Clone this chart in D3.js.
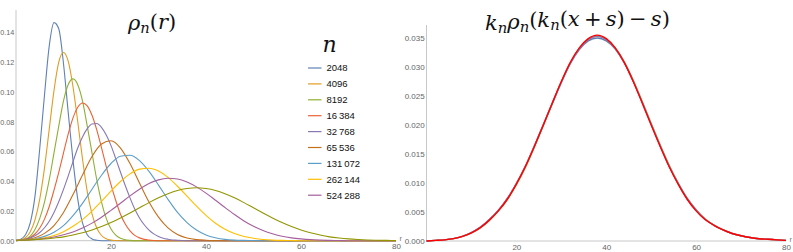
<!DOCTYPE html>
<html>
<head>
<meta charset="utf-8">
<script src="https://cdn.jsdelivr.net/npm/d3@7"></script>
<style>
  body { margin: 0; background: #fff; }
  svg { display: block; }
  .tick text { font-family: "Liberation Sans", Arial, sans-serif; font-size: 8px; fill: #666; }
  .axis path { stroke: #c8c8c8; }
  .legend-label { font-family: "Liberation Sans", Arial, sans-serif; font-size: 9.5px; fill: #111; }
  .axis-label { font-family: "Liberation Sans", Arial, sans-serif; font-size: 7.5px; fill: #777; }
</style>
</head>
<body>
<div id="chart"></div>
<script>
// series sizes (legend shows the first nine)
const sizes = ['2048', '4096', '8192', '16\u2009384', '32\u2009768', '65\u2009536', '131\u2009072', '262\u2009144', '524\u2009288', '1\u2009048\u2009576'];
const colors = ['#5E81B5', '#E19C24', '#8FB032', '#EB6235', '#8778B3', '#C56E1A', '#5D9EC7', '#FFBF00', '#A5609D', '#929600'];

// rho_n(r), sampled from r = 0 with the step in sampleStep
const sampleStep = [1, 1, 1, 1, 1, 2, 2, 2, 2, 2];
const rho2048 = [0, .001, .004, .012, .03, .062, .098, .131, .1466, .1425, .119, .086, .054, .028, .012, .004, .0012, .0003, 0];
const rho4096 = [0, .0005, .002, .006, .014, .028, .049, .075, .101, .120, .1265, .1205, .1035, .080, .055, .033, .018, .0085, .0035, .0013, .0004, .0001, 0];
const rho8192 = [0, .0003, .001, .003, .0075, .015, .026, .041, .059, .077, .094, .105, .1088, .1049, .094, .077, .059, .041, .026, .015, .0078, .0037, .0016, .0006, .0002, 0];
const rho16384 = [0, .0004, .001, .0022, .0045, .0085, .0145, .023, .034, .046, .059, .0718, .0826, .0897, .0926, .0907, .0843, .0745, .0625, .0498, .0377, .027, .0178, .0112, .0066, .0036, .0019, .0009, .0004, .0001, 0];
const rho32768 = [.0002, .0005, .001, .0019, .0033, .0055, .0087, .0131, .019, .0262, .0345, .0436, .0531, .0623, .0697, .0753, .0785, .0788, .0762, .071, .0639, .0552, .046, .0371, .0288, .0213, .0153, .0107, .0071, .0046, .0029, .0017, .001, .0005, .0003, .0001, 0];
const rho65536 = [.0002, .0007, .002, .0049, .0102, .019, .031, .0441, .0566, .065, .0672, .0623, .0519, .0388, .026, .0158, .0086, .0042, .0018, .0007, .0003, .0001, 0];
const rho131072 = [.0002, .0005, .0013, .0029, .0057, .0101, .0168, .0251, .0346, .044, .0519, .0568, .0574, .0538, .0466, .0374, .0278, .019, .0122, .0072, .0039, .002, .0009, .0004, .0002, .0001, 0];
const rho262144 = [.0002, .0005, .001, .0019, .0035, .006, .0097, .0142, .0199, .0265, .0334, .0398, .0449, .0481, .0487, .0468, .0426, .0366, .03, .0232, .017, .0117, .0077, .0048, .0028, .0016, .0008, .0004, .0002, .0001, 0];
const rho524288 = [.0002, .0004, .0008, .0015, .0025, .004, .0059, .0085, .0118, .0158, .0204, .0252, .0301, .0346, .0384, .0409, .042, .0415, .0395, .0362, .032, .0272, .0223, .0176, .0133, .0097, .0069, .0047, .003, .0019, .0012, .0007, .0004, .0002, .0001, 0];
const rho1048576 = [.0002, .0004, .0007, .0011, .0018, .0026, .0038, .0053, .0072, .0095, .0122, .0153, .0186, .0221, .0256, .0288, .0316, .0338, .0351, .0356, .0351, .0338, .0316, .0288, .0256, .0221, .0186, .0153, .0122, .0095, .0072, .0053, .0038, .0026, .0018, .0012, .0008, .0005, .0003, .0002, .0001];
const rhoSeries = [rho2048, rho4096, rho8192, rho16384, rho32768, rho65536, rho131072, rho262144, rho524288, rho1048576];

// rescaled curves k_n rho_n(k_n(x+s)-s), sampled every 2 from 0 to 80
const collapseColors = ['#5E81B5', '#E19C24', '#8778B3', '#FF0000'];
const collapseBlue = [0, .0001, .0002, .0004, .0008, .0014, .0024, .0037, .0053, .0073, .0099, .0129, .0164, .0201, .0238, .0274, .0306, .0330, .0345, .0350, .0345, .0331, .0307, .0276, .0240, .0202, .0165, .0130, .0100, .0074, .0054, .0038, .0027, .0019, .0013, .0009, .0006, .0004, .0003, .0002, .0001];
const collapseOrange = [0, .0001, .0002, .0004, .0008, .0014, .0023, .0036, .0052, .0072, .0097, .0127, .0162, .0199, .0237, .0274, .0307, .0332, .0348, .0353, .0348, .0333, .0309, .0277, .0240, .0202, .0165, .0130, .0099, .0073, .0053, .0038, .0027, .0019, .0013, .0009, .0006, .0004, .0003, .0002, .0001];
const collapsePurple = [0, .0001, .0002, .0004, .0008, .0015, .0024, .0037, .0053, .0074, .0099, .0129, .0163, .0200, .0237, .0273, .0306, .0331, .0347, .0353, .0347, .0332, .0308, .0276, .0239, .0201, .0164, .0129, .0099, .0073, .0053, .0037, .0027, .0019, .0013, .0009, .0006, .0004, .0003, .0002, .0001];
const collapseRed = [0, .0001, .0002, .0004, .0008, .0014, .0023, .0036, .0052, .0072, .0098, .0128, .0163, .0200, .0238, .0275, .0308, .0333, .0349, .0355, .0349, .0333, .0308, .0275, .0238, .0200, .0163, .0128, .0098, .0072, .0052, .0037, .0027, .0019, .0013, .0009, .0006, .0004, .0003, .0002, .0001];
const collapseSeries = [collapseBlue, collapseOrange, collapsePurple, collapseRed];

const xTicks = [20, 40, 60, 80];
const leftYTicks = [0, .02, .04, .06, .08, .10, .12, .14];
const rightYTicks = [0, .005, .01, .015, .02, .025, .03, .035];

const width = 793, height = 252;
const mathFont = "'DejaVu Serif', 'Liberation Serif', serif";

const svg = d3.select('#chart').append('svg')
    .attr('width', width)
    .attr('height', height);

// scales
const xLeft = d3.scaleLinear().domain([0, 80]).range([16, 396]);
const yLeft = d3.scaleLinear().domain([0, 0.14]).range([240.7, 32.45]);
const xRight = d3.scaleLinear().domain([0, 80]).range([426.5, 786]);
const yRight = d3.scaleLinear().domain([0, 0.035]).range([241, 38]);

function toPoints(values, step) {
    const pts = values.map((v, i) => [i * step, v]);
    if (pts[pts.length - 1][0] < 80) pts.push([80, 0]);
    return pts;
}

function drawAxes(x, y, yTicks, yFmt, top, labelSize, rShift) {
    svg.append('g')
        .attr('class', 'axis')
        .attr('transform', `translate(0,${y(0)})`)
        .call(d3.axisBottom(x).tickValues(xTicks).tickSize(0).tickPadding(3))
        .call(g => g.select('.domain').attr('d', `M${x(0)},0H${x(80)}`));
    svg.append('g')
        .attr('class', 'axis')
        .attr('transform', `translate(${x(0)},0)`)
        .call(d3.axisLeft(y).tickValues(yTicks).tickFormat(d3.format(yFmt)).tickSize(0).tickPadding(1.8))
        .call(g => g.select('.domain').attr('d', `M0,${top}V${y(0)}`))
        .call(g => g.selectAll('.tick text').style('font-size', labelSize + 'px'));
    // axis name sits just above the end of the x axis
    svg.append('text')
        .attr('class', 'axis-label')
        .attr('x', x(80) + rShift)
        .attr('y', y(0) + 0.5)
        .text('r');
}

drawAxes(xLeft, yLeft, leftYTicks, '.2f', 10, 7.2, 3.5);
drawAxes(xRight, yRight, rightYTicks, '.3f', 25, 8, 3.5);

// left panel curves
const lineLeft = d3.line()
    .x(d => xLeft(d[0]))
    .y(d => yLeft(d[1]))
    .curve(d3.curveMonotoneX);

svg.append('g').selectAll('path')
    .data(rhoSeries)
    .enter()
    .append('path')
    .attr('d', (d, i) => lineLeft(toPoints(d, sampleStep[i])))
    .attr('fill', 'none')
    .attr('stroke', (d, i) => colors[i])
    .attr('stroke-width', 1.1);

// right panel curves
const lineRight = d3.line()
    .x(d => xRight(d[0]))
    .y(d => yRight(d[1]))
    .curve(d3.curveMonotoneX);

svg.append('g').selectAll('path')
    .data(collapseSeries)
    .enter()
    .append('path')
    .attr('d', d => lineRight(toPoints(d, 2)))
    .attr('fill', 'none')
    .attr('stroke', (d, i) => collapseColors[i])
    .attr('stroke-width', 1.4);

// titles, fitted to the width they take in the figure
function mathTitle(x, y, targetWidth, parts) {
    const t = svg.append('text')
        .attr('x', x)
        .attr('y', y)
        .attr('fill', '#111')
        .style('font-family', mathFont);
    parts.forEach(p => {
        const s = t.append('tspan').text(p.t);
        if (p.i) s.style('font-style', 'italic');
        if (p.sub) s.attr('dy', '0.2em').style('font-size', '70%');
        if (p.back) s.attr('dy', '-0.2em');
    });
    let size = 24;
    t.style('font-size', size + 'px');
    const w = t.node().getBBox().width;
    size = Math.min(26, size * targetWidth / w);
    t.style('font-size', size + 'px');
}

mathTitle(128, 30, 49, [
    { t: 'ρ', i: true }, { t: 'n', i: true, sub: true },
    { t: '(', back: true }, { t: 'r', i: true }, { t: ')' }
]);
mathTitle(485, 30, 185, [
    { t: 'k', i: true }, { t: 'n', i: true, sub: true },
    { t: 'ρ', i: true, back: true }, { t: 'n', i: true, sub: true },
    { t: '(', back: true }, { t: 'k', i: true }, { t: 'n', i: true, sub: true },
    { t: '(', back: true }, { t: 'x', i: true }, { t: '\u2009+\u2009' }, { t: 's', i: true },
    { t: ')\u2009\u2212\u2009' }, { t: 's', i: true }, { t: ')' }
]);

// legend
svg.append('text')
    .attr('x', 322.5)
    .attr('y', 52)
    .attr('fill', '#111')
    .style('font-family', mathFont)
    .style('font-size', '22px')
    .style('font-style', 'italic')
    .text('n');

const legend = svg.append('g').selectAll('g')
    .data(sizes.slice(0, 9))
    .enter()
    .append('g')
    .attr('transform', (d, i) => `translate(308,${68 + i * 15.9})`);

legend.append('line')
    .attr('x1', 0).attr('x2', 13.5)
    .attr('stroke', (d, i) => colors[i])
    .attr('stroke-width', 1.2);

legend.append('text')
    .attr('class', 'legend-label')
    .attr('x', 18.5)
    .attr('y', 3.4)
    .text(d => d);
</script>
</body>
</html>
